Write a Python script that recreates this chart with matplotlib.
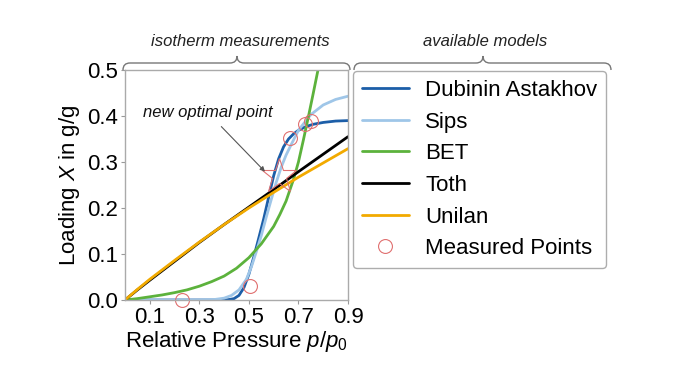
import matplotlib
matplotlib.use("Agg")
import matplotlib.pyplot as plt
from matplotlib.path import Path
from matplotlib.patches import PathPatch

plt.rcParams['font.family'] = ['Liberation Sans', 'DejaVu Sans']
plt.rcParams['mathtext.fontset'] = 'custom'
plt.rcParams['mathtext.rm'] = 'Liberation Sans'
plt.rcParams['mathtext.it'] = 'Liberation Sans:italic'

# ---- data ----
da_x = [0.00, 0.40, 0.42, 0.44, 0.46, 0.48, 0.50, 0.52, 0.54, 0.56, 0.58, 0.60, 0.62,
        0.64, 0.66, 0.68, 0.70, 0.73, 0.76, 0.80, 0.85, 0.90]
da_y = [0.000, 0.000, 0.001, 0.003, 0.010, 0.027, 0.056, 0.094, 0.135, 0.177, 0.224,
        0.270, 0.307, 0.333, 0.350, 0.361, 0.369, 0.377, 0.382, 0.386, 0.389, 0.390]

sips_x = [0.00, 0.30, 0.36, 0.40, 0.43, 0.46, 0.49, 0.51, 0.53, 0.55, 0.57, 0.59, 0.61,
          0.63, 0.65, 0.67, 0.70, 0.75, 0.80, 0.85, 0.90]
sips_y = [0.000, 0.000, 0.001, 0.004, 0.010, 0.022, 0.045, 0.072, 0.105, 0.140, 0.180,
          0.218, 0.255, 0.288, 0.315, 0.337, 0.369, 0.403, 0.424, 0.436, 0.443]

bet_x = [0.00, 0.05, 0.10, 0.15, 0.20, 0.25, 0.30, 0.35, 0.40, 0.45, 0.50, 0.55, 0.60,
         0.625, 0.65, 0.68, 0.70, 0.72, 0.74, 0.76, 0.78, 0.80]
bet_y = [0.000, 0.003, 0.007, 0.011, 0.016, 0.022, 0.030, 0.040, 0.052, 0.069, 0.092,
         0.122, 0.160, 0.186, 0.215, 0.262, 0.300, 0.348, 0.398, 0.450, 0.503, 0.560]

toth_x = [0.0, 0.05, 0.1, 0.2, 0.3, 0.4, 0.5, 0.6, 0.7, 0.8, 0.9]
toth_y = [0.000, 0.022, 0.043, 0.084, 0.125, 0.164, 0.202, 0.240, 0.279, 0.317, 0.355]

unilan_x = [0.0, 0.05, 0.1, 0.2, 0.3, 0.4, 0.5, 0.6, 0.7, 0.8, 0.9]
unilan_y = [0.000, 0.023, 0.045, 0.086, 0.126, 0.164, 0.200, 0.234, 0.267, 0.298, 0.329]

meas_x = [0.23, 0.505, 0.666, 0.726, 0.752]
meas_y = [0.000, 0.030, 0.353, 0.382, 0.389]

opt_x = [0.62]
opt_y = [0.27]

x_ticks = [0.1, 0.3, 0.5, 0.7, 0.9]
y_ticks = [0.0, 0.1, 0.2, 0.3, 0.4, 0.5]

labels = ["Dubinin Astakhov", "Sips", "BET", "Toth", "Unilan", "Measured Points"]
colors = ["#1c5ea8", "#9fc6e8", "#5cb23c", "#000000", "#f2aa00"]
marker_color = "#e07070"

W, H = 676, 380
fig = plt.figure(figsize=(W / 100, H / 100), dpi=100)
ax = fig.add_axes([125 / W, 1 - 300 / H, 223 / W, 230 / H])

series = [(da_x, da_y), (sips_x, sips_y), (bet_x, bet_y), (toth_x, toth_y), (unilan_x, unilan_y)]
handles = []
for (xs, ys), c, lab in zip(series, colors, labels[:5]):
    h, = ax.plot(xs, ys, color=c, lw=2.0, label=lab, solid_capstyle='round',
                 solid_joinstyle='round')
    handles.append(h)

hm, = ax.plot(meas_x, meas_y, 'o', ms=10, mfc='none', mec=marker_color, mew=0.8,
              label=labels[5], clip_on=False)
handles.append(hm)
ax.plot(opt_x, opt_y, '*', ms=26, mfc='none', mec=marker_color, mew=0.8)

ax.annotate("new optimal point", xy=(0.565, 0.279), xytext=(0.333, 0.408),
            ha='center', va='center', fontsize=12, style='italic', color='#111111',
            arrowprops=dict(arrowstyle='-|>', color='#555555', lw=0.8,
                            mutation_scale=7, shrinkA=4, shrinkB=0))

ax.set_xlim(0, 0.9)
ax.set_ylim(0, 0.5)
ax.set_xticks(x_ticks)
ax.set_xticklabels([f"{v:.1f}" for v in x_ticks])
ax.set_yticks(y_ticks)
ax.set_yticklabels([f"{v:.1f}" for v in y_ticks])
ax.tick_params(labelsize=16, length=3, width=0.8, color='#999999', pad=2)
for s in ax.spines.values():
    s.set_color('#aaaaaa')
    s.set_linewidth(1.0)
ax.set_xlabel("Relative Pressure $p/p_0$", fontsize=16, labelpad=1)
ax.set_ylabel("Loading $X$ in g/g", fontsize=16, labelpad=4)

leg = fig.legend(handles=handles, labels=labels, loc='upper left',
                 bbox_to_anchor=(353 / W, 1 - 71 / H), fontsize=16,
                 frameon=True, fancybox=True, edgecolor='#999999',
                 handlelength=2.1, handletextpad=0.75, labelspacing=0.48,
                 borderpad=0.4, borderaxespad=0)
leg.get_frame().set_linewidth(1.0)

# overlay for braces and group captions (pixel coordinates)
ov = fig.add_axes([0, 0, 1, 1])
ov.set_xlim(0, W)
ov.set_ylim(H, 0)
ov.axis('off')
ov.patch.set_alpha(0)


def brace(x0, x1, xm, ybase=63, yend=70, ytip=56, r=7):
    verts = [(x0, yend), (x0, ybase), (x0 + r, ybase),
             (xm - r, ybase), (xm, ybase), (xm, ytip),
             (xm, ybase), (xm + r, ybase),
             (x1 - r, ybase), (x1, ybase), (x1, yend)]
    codes = [Path.MOVETO, Path.CURVE3, Path.CURVE3,
             Path.LINETO, Path.CURVE3, Path.CURVE3,
             Path.CURVE3, Path.CURVE3,
             Path.LINETO, Path.CURVE3, Path.CURVE3]
    ov.add_patch(PathPatch(Path(verts, codes), fill=False, edgecolor='#777777', lw=1.0))


brace(123, 350, 237)
brace(354, 611, 483)
ov.text(240, 42, "isotherm measurements", ha='center', va='center', fontsize=12,
        style='italic', color='#222222')
ov.text(485, 42, "available models", ha='center', va='center', fontsize=12,
        style='italic', color='#222222')

fig.savefig("out.png", dpi=100)
